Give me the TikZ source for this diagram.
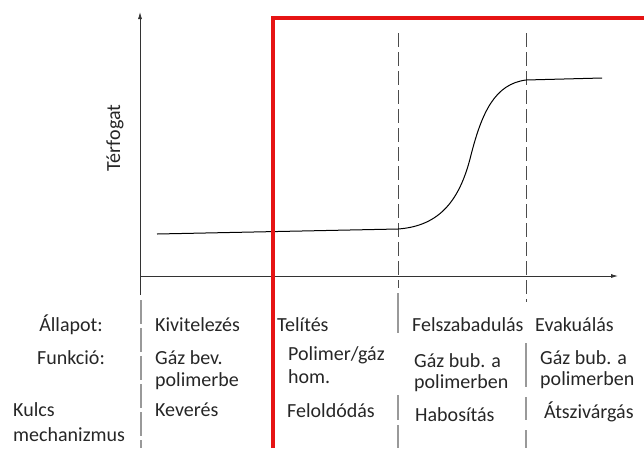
\documentclass[tikz,border=0pt]{standalone}
\usepackage{fontspec}
\setmainfont{Carlito}
\usetikzlibrary{arrows.meta}
\definecolor{tablegray}{gray}{0.6}
\definecolor{boxred}{RGB}{230,20,20}
\tikzset{
    lbl/.style={anchor=west, inner sep=0pt, text=black!85, font=\fontsize{20}{24}\selectfont},
    sep/.style={tablegray, line width=1.1pt},
    phase/.style={black!70, line width=0.8pt, dash pattern=on 14pt off 5pt},
}
\begin{document}
\begin{tikzpicture}[x=1pt, y=-1pt]
        \useasboundingbox (0,0) rectangle (644,448);
        \coordinate (0) at (140,12);
        \coordinate (1) at (140,295);
        \coordinate (2) at (140,276);
        \coordinate (3) at (618,276);
        \coordinate (4) at (157,234);
        \coordinate (5) at (398,229);
        \coordinate (6) at (471,155);
        \coordinate (7) at (526,80);
        \coordinate (8) at (602,78);
        \coordinate (9) at (398,33);
        \coordinate (10) at (398,288);
        \coordinate (11) at (526,33);
        \coordinate (12) at (526,302);
        \coordinate (13) at (141,300);
        \coordinate (14) at (141,448);
        \coordinate (15) at (273,448);
        \coordinate (16) at (273,18);
        \coordinate (17) at (650,18);
        % axes
        \draw [black!80, line width=0.8pt, -{Latex[length=7pt,width=4pt]}] (1) -- (0);
        \draw [black!80, line width=0.8pt, -{Latex[length=7pt,width=4pt]}] (2) -- (3);
        \node [rotate=90, text=black!85, font=\fontsize{20}{24}\selectfont] (18) at (115,138) {Térfogat};
        % phase borders
        \draw [phase] (9) -- (10);
        \draw [phase] (11) -- (12);
        \draw [sep, dash pattern=on 24pt off 4pt] (13) -- (14);
        \draw [sep] (398,293) -- (398,333);
        \draw [sep] (398,395) -- (398,420);
        \draw [sep] (398,425) -- (398,448);
        \draw [sep] (526,343) -- (526,387);
        \draw [sep] (526,397) -- (526,420);
        \draw [sep] (526,430) -- (526,448);
        % volume curve
        \draw [line width=1pt] (4) -- (5) .. controls (440,226) and (460,200) .. (6)
              .. controls (482,112) and (495,84) .. (7) -- (8);
        % highlighted region
        \draw [boxred, line width=3.5pt] (15) -- (16) -- (17);
        % table
        \node [lbl, anchor=center] (20) at (71,325) {Állapot:};
        \node [lbl, anchor=center] (21) at (71,358) {Funkció:};
        \node [lbl] (22) at (13,410) {Kulcs};
        \node [lbl] (23) at (13,435) {mechanizmus};
        \node [lbl] (24) at (155,325) {Kivitelezés};
        \node [lbl] (25) at (155,358) {Gáz bev.};
        \node [lbl] (26) at (155,381) {polimerbe};
        \node [lbl] (27) at (155,410) {Keverés};
        \node [lbl] (28) at (277,325) {Telítés};
        \node [lbl] (29) at (288,355) {Polimer/gáz};
        \node [lbl] (30) at (288,377) {hom.};
        \node [lbl] (31) at (287,411) {Feloldódás};
        \node [lbl] (32) at (412,325) {Felszabadulás};
        \node [lbl] (33) at (414,361) {Gáz bub. a};
        \node [lbl] (34) at (414,383) {polimerben};
        \node [lbl] (35) at (415,415) {Habosítás};
        \node [lbl] (36) at (535,325) {Evakuálás};
        \node [lbl] (37) at (540,358) {Gáz bub. a};
        \node [lbl] (38) at (540,380) {polimerben};
        \node [lbl] (39) at (544,412) {Átszivárgás};
\end{tikzpicture}
\end{document}
